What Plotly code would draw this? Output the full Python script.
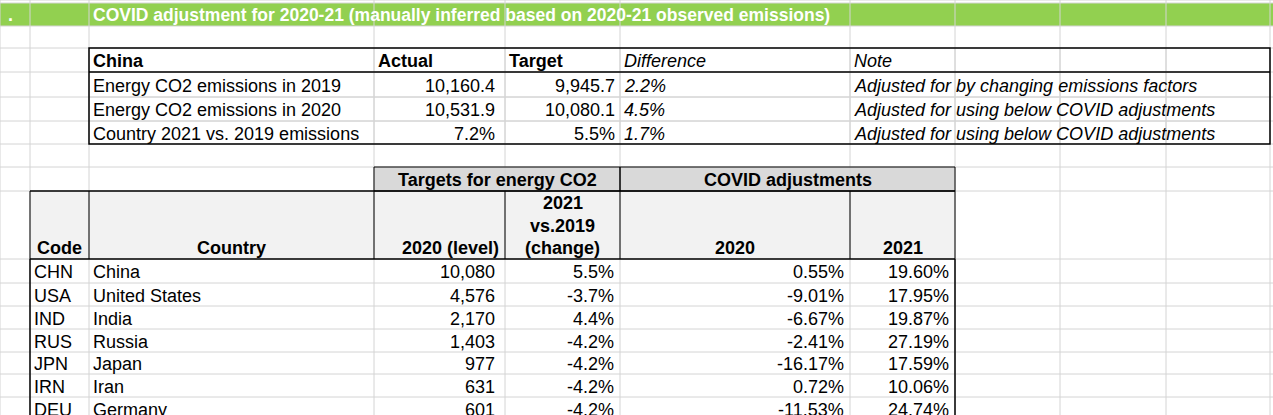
import plotly.graph_objects as go

# ---- data ----
title = "COVID adjustment for 2020-21 (manually inferred based on 2020-21 observed emissions)"
sum_labels = ["Energy CO2 emissions in 2019", "Energy CO2 emissions in 2020", "Country 2021 vs. 2019 emissions"]
sum_actual = ["10,160.4", "10,531.9", "7.2%"]
sum_target = ["9,945.7", "10,080.1", "5.5%"]
sum_diff = ["2.2%", "4.5%", "1.7%"]
sum_note = ["Adjusted for by changing emissions factors",
            "Adjusted for using below COVID adjustments",
            "Adjusted for using below COVID adjustments"]
codes = ["CHN", "USA", "IND", "RUS", "JPN", "IRN", "DEU"]
countries = ["China", "United States", "India", "Russia", "Japan", "Iran", "Germany"]
level2020 = ["10,080", "4,576", "2,170", "1,403", "977", "631", "601"]
change2021 = ["5.5%", "-3.7%", "4.4%", "-4.2%", "-4.2%", "-4.2%", "-4.2%"]
covid2020 = ["0.55%", "-9.01%", "-6.67%", "-2.41%", "-16.17%", "0.72%", "-11.53%"]
covid2021 = ["19.60%", "17.95%", "19.87%", "27.19%", "17.59%", "10.06%", "24.74%"]

# ---- grid geometry ----
W, H = 1273, 415
cols = [0, 30, 89, 374, 505, 620, 850, 955, 1060, 1166, 1270]
rows = [0, 3, 26, 48, 72, 97, 121, 144, 167, 191, 259, 283, 306, 329, 352, 374, 397, 420]
GRID = "#d4d4d4"
FONT = "Liberation Sans, Arial, sans-serif"
FS = 18

shapes = []
ann = []

def line(x0, y0, x1, y1, color="black", w=1):
    shapes.append(dict(type="line", x0=x0, y0=y0, x1=x1, y1=y1, line=dict(color=color, width=w), layer="above"))

def rect(x0, y0, x1, y1, fill, lc=None, w=1):
    shapes.append(dict(type="rect", x0=x0, y0=y0, x1=x1, y1=y1, fillcolor=fill,
                       line=dict(color=lc or fill, width=w if lc else 0), layer="below"))

def text(x, y, s, anchor="left", bold=False, italic=False, color="black", size=FS):
    if bold:
        s = "<b>" + s + "</b>"
    if italic:
        s = "<i>" + s + "</i>"
    ann.append(dict(x=x, y=y, text=s, showarrow=False, xanchor=anchor, yanchor="middle",
                    xshift=0, font=dict(family=FONT, size=size, color=color)))

# background gridlines
for c in cols:
    line(c, 0, c, H, GRID)
for r in rows:
    line(0, r, W, r, GRID)

# title bar
rect(0, rows[1], W, rows[2], "#92d050")
text(6, 14.5, ".", bold=True, color="white")
text(91, 14.5, title, bold=True, color="white", size=17.5)

def mid(i):
    return (rows[i] + rows[i + 1]) / 2 + 1

# summary table
rect(cols[2], rows[3], cols[10], rows[7], "white")
for r in rows[4:7]:
    line(cols[2], r, cols[10], r, GRID)
for c in cols[3:10]:
    line(c, rows[3], c, rows[7], GRID)
line(cols[2], rows[4], cols[10], rows[4], "black", 1.5)
shapes.append(dict(type="rect", x0=cols[2], y0=rows[3], x1=cols[10], y1=rows[7],
                   line=dict(color="black", width=1.5), layer="above"))
text(cols[2] + 2, mid(3), "China", bold=True)
text(cols[3] + 2, mid(3), "Actual", bold=True)
text(cols[4] + 2, mid(3), "Target", bold=True)
text(cols[5] + 2, mid(3), "Difference", italic=True)
text(cols[6] + 2, mid(3), "Note", italic=True)
for i in range(3):
    rr = 4 + i
    text(cols[2] + 2, mid(rr), sum_labels[i])
    text(cols[4] - 8, mid(rr), sum_actual[i], anchor="right")
    text(cols[5] - 3, mid(rr), sum_target[i], anchor="right")
    text(cols[5] + 2, mid(rr), sum_diff[i], italic=True)
    text(cols[6] + 2, mid(rr), sum_note[i], italic=True)

# lower table header groups
rect(cols[3], rows[8], cols[5], rows[9], "#d9d9d9")
rect(cols[5], rows[8], cols[7], rows[9], "#d9d9d9")
for x0, x1 in [(cols[3], cols[5]), (cols[5], cols[7])]:
    shapes.append(dict(type="rect", x0=x0, y0=rows[8], x1=x1, y1=rows[9],
                       line=dict(color="black", width=1), layer="above"))
text((cols[3] + cols[5]) / 2, mid(8), "Targets for energy CO2", anchor="center", bold=True)
text((cols[5] + cols[7]) / 2, mid(8), "COVID adjustments", anchor="center", bold=True)

# column header row
rect(cols[1], rows[9], cols[7], rows[10], "#f2f2f2")
for c in cols[1:8]:
    line(c, rows[9], c, rows[10], "black", 1)
line(cols[1], rows[9], cols[7], rows[9], "black", 1.5)
line(cols[1], rows[10], cols[7], rows[10], "black", 1.5)
hb = rows[10] - 11
text(cols[1] + 5, hb, "Code", bold=True)
text((cols[2] + cols[3]) / 2, hb, "Country", anchor="center", bold=True)
text(cols[4] - 4, hb, "2020 (level)", anchor="right", bold=True)
ch = (cols[4] + cols[5]) / 2
text(ch, hb - 45, "2021", anchor="center", bold=True)
text(ch, hb - 22, "vs.2019", anchor="center", bold=True)
text(ch, hb, "(change)", anchor="center", bold=True)
text((cols[5] + cols[6]) / 2, hb, "2020", anchor="center", bold=True)
text((cols[6] + cols[7]) / 2, hb, "2021", anchor="center", bold=True)

# data rows
line(cols[1], rows[10], cols[1], H, "black", 1.5)
line(cols[7], rows[10], cols[7], H, "black", 1.5)
for i in range(len(codes)):
    rr = 10 + i
    text(cols[1] + 2, mid(rr), codes[i])
    text(cols[2] + 2, mid(rr), countries[i])
    text(cols[4] - 8, mid(rr), level2020[i], anchor="right")
    text(cols[5] - 4, mid(rr), change2021[i], anchor="right")
    text(cols[6] - 4, mid(rr), covid2020[i], anchor="right")
    text(cols[7] - 4, mid(rr), covid2021[i], anchor="right")

fig = go.Figure()
fig.update_layout(
    width=W, height=H, margin=dict(l=0, r=0, t=0, b=0),
    paper_bgcolor="white", plot_bgcolor="white",
    xaxis=dict(range=[0, W], visible=False, fixedrange=True),
    yaxis=dict(range=[H, 0], visible=False, fixedrange=True),
    shapes=shapes, annotations=ann, showlegend=False,
)
fig.write_html("out.html", config={"displayModeBar": False})

# remove the default page margin so the figure sits at the window's top-left
with open("out.html", encoding="utf-8") as f:
    html = f.read()
html = html.replace("<head>", "<head><style>html,body{margin:0;padding:0;overflow:hidden;}</style>", 1)
with open("out.html", "w", encoding="utf-8") as f:
    f.write(html)
